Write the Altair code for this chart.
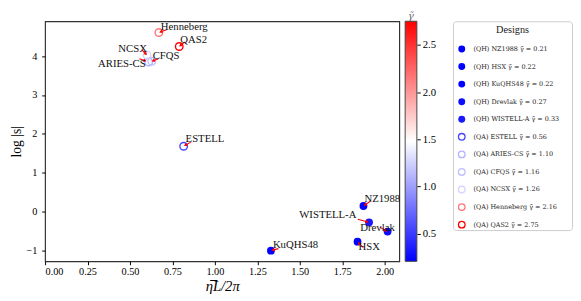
import math
import altair as alt
import pandas as pd

# ---------------- data ----------------
names = ["NZ1988", "HSX", "KuQHS48", "Drevlak", "WISTELL-A",
         "ESTELL", "ARIES-CS", "CFQS", "NCSX", "Henneberg", "QAS2"]
families = ["QH", "QH", "QH", "QH", "QH",
            "QA", "QA", "QA", "QA", "QA", "QA"]
eta_L = [1.875, 1.84, 1.33, 2.017, 1.908, 0.816, 0.61, 0.628, 0.60, 0.67, 0.79]
log_s = [0.14, -0.78, -1.01, -0.52, -0.28, 1.68, 3.85, 3.87, 4.03, 4.61, 4.25]
gamma_tilde = [0.21, 0.22, 0.22, 0.27, 0.33, 0.56, 1.10, 1.16, 1.26, 2.16, 2.75]

x_ticks = [0.0, 0.25, 0.5, 0.75, 1.0, 1.25, 1.5, 1.75, 2.0]
y_ticks = [-1, 0, 1, 2, 3, 4]
cbar_ticks = [0.5, 1.0, 1.5, 2.0, 2.5]

# ---------------- annotation layout (pixels, styling only) ----------------
# name: (align, text dx, text dy (baseline), arrow angle, arrow length, gap to point)
label_layout = {
    "NZ1988":    ("left", 1, -4, 145, 6.5, 2.0),
    "HSX":       ("left", 1, 9, 225, 6.5, 2.0),
    "KuQHS48":   ("left", 2, -3, 165, 6.0, 2.0),
    "Drevlak":   ("left", -28, -1, 30, 7.0, 2.0),
    "WISTELL-A": ("right", -13, -4, 15, 10.0, 2.0),
    "ESTELL":    ("left", 2, -4, 150, 6.5, 2.0),
    "ARIES-CS":  ("right", -3, 5, 20, 6.0, 4.0),
    "CFQS":      ("left", 1, -2, 160, 5.5, 1.5),
    "NCSX":      ("right", 0, -3, 45, 6.0, 1.5),
    "Henneberg": ("left", 2, -3, 160, 6.5, 2.0),
    "QAS2":      ("left", 1, -4, 140, 6.0, 1.5),
}

SERIF = "Liberation Serif"
W, H = 363, 246
X_DOM = [0.0, 2.086]
Y_DOM = [-1.285, 4.90]
kx = (X_DOM[1] - X_DOM[0]) / W
ky = (Y_DOM[1] - Y_DOM[0]) / H

g_lo, g_hi = min(gamma_tilde), max(gamma_tilde)
g_mid = (g_lo + g_hi) / 2
cscale = alt.Scale(domain=[g_lo, g_mid, g_hi],
                   range=["#0000ff", "#ffffff", "#ff0000"], interpolate="rgb")

rows = []
for i, n in enumerate(names):
    al, tdx, tdy, ang, alen, gap = label_layout[n]
    c, s = math.cos(math.radians(ang)), math.sin(math.radians(ang))
    hx_px, hy_px = -gap * c, -gap * s
    tx_px, ty_px = hx_px - alen * c, hy_px - alen * s
    rows.append(dict(
        name=n, family=families[i], x=eta_L[i], y=log_s[i], g=gamma_tilde[i],
        align=al,
        lx=eta_L[i] + tdx * kx, ly=log_s[i] - tdy * ky,
        hx=eta_L[i] + hx_px * kx, hy=log_s[i] - hy_px * ky,
        tx=eta_L[i] + tx_px * kx, ty=log_s[i] - ty_px * ky,
        ang=ang, row=i,
        legend=f"({families[i]}) {n} γ̃ = {gamma_tilde[i]:.2f}",
    ))
df = pd.DataFrame(rows)

xs = alt.Scale(domain=X_DOM, nice=False, zero=False)
ys = alt.Scale(domain=Y_DOM, nice=False, zero=False)

base = alt.Chart(df)
xenc = alt.X("x:Q", scale=xs, title="η̅L/2π",
             axis=alt.Axis(values=x_ticks, format=".2f", labelFontSize=10.5,
                           titleFontSize=15, titleFontStyle="italic",
                           titleFontWeight="normal", titlePadding=2,
                           tickSize=3.5, tickColor="#000", domain=False,
                           grid=False, labelFont=SERIF, titleFont=SERIF,
                           labelColor="#000", titleColor="#000"))
yenc = alt.Y("y:Q", scale=ys, title="log |s|",
             axis=alt.Axis(values=y_ticks, format="d", labelFontSize=10.5,
                           labelPadding=5,
                           titleFontSize=14, titleFontWeight="normal",
                           titlePadding=3, tickSize=3.5, tickColor="#000",
                           domain=False, grid=False, labelFont=SERIF,
                           titleFont=SERIF, labelColor="#000",
                           titleColor="#000"))

qh_pts = base.transform_filter(alt.datum.family == "QH").mark_circle(
    size=64, opacity=1).encode(
    x=xenc, y=yenc, color=alt.Color("g:Q", scale=cscale, legend=None))
qa_pts = base.transform_filter(alt.datum.family == "QA").mark_point(
    shape="circle", filled=False, size=60, strokeWidth=1.4, opacity=1).encode(
    x="x:Q", y="y:Q", color=alt.Color("g:Q", scale=cscale, legend=None))

lab_left = base.transform_filter(alt.datum.align == "left").mark_text(
    align="left", baseline="alphabetic", font=SERIF, fontSize=11,
    color="#111").encode(x="lx:Q", y="ly:Q", text="name:N")
lab_right = base.transform_filter(alt.datum.align == "right").mark_text(
    align="right", baseline="alphabetic", font=SERIF, fontSize=11,
    color="#111").encode(x="lx:Q", y="ly:Q", text="name:N")
arrow_shaft = base.mark_rule(color="#ff0000", strokeWidth=1.1).encode(
    x="tx:Q", y="ty:Q", x2="hx:Q", y2="hy:Q")
arrow_head = base.mark_point(shape="triangle-right", filled=True, size=14,
                             color="#ff0000", opacity=1).encode(
    x="hx:Q", y="hy:Q", angle=alt.Angle("ang:Q", scale=None))

main = alt.layer(qh_pts, qa_pts, arrow_shaft, arrow_head, lab_left, lab_right).properties(
    width=W, height=H, view=alt.ViewBackground(stroke="#333", strokeWidth=1.2))

# ---------------- colorbar ----------------
cb_df = pd.DataFrame({"lo": [g_lo], "hi": [g_hi]})
grad = alt.Gradient(gradient="linear",
                    stops=[alt.GradientStop(color="#0000ff", offset=0),
                           alt.GradientStop(color="#ffffff", offset=0.5),
                           alt.GradientStop(color="#ff0000", offset=1)],
                    x1=0, x2=0, y1=1, y2=0)
cbar = alt.Chart(cb_df).mark_rect(fill=grad, stroke="#444", strokeWidth=1).encode(
    y=alt.Y("lo:Q", scale=alt.Scale(domain=[g_lo, g_hi], nice=False, zero=False),
            axis=alt.Axis(orient="right", values=cbar_ticks, format=".1f",
                          labelFontSize=11, labelFont=SERIF, tickSize=3.5,
                          tickColor="#000", domain=False, grid=False,
                          labelColor="#000", labelPadding=2),
            title=None),
    y2="hi:Q", x=alt.value(0), x2=alt.value(12),
).properties(width=12, height=H,
             title=alt.TitleParams("γ̃", font="DejaVu Serif", fontSize=10,
                                   fontWeight="normal", fontStyle="italic",
                                   color="#666", offset=0),
             view=alt.ViewBackground(stroke="transparent"))

# ---------------- designs legend ----------------
ly_scale = alt.Scale(domain=[-1.578, 10.31], reverse=True, nice=False, zero=False)
lbase = alt.Chart(df)
leg_qh = lbase.transform_filter(alt.datum.family == "QH").mark_circle(
    size=50, opacity=1).encode(
    x=alt.value(9), y=alt.Y("row:Q", scale=ly_scale, axis=None),
    color=alt.Color("g:Q", scale=cscale, legend=None))
leg_qa = lbase.transform_filter(alt.datum.family == "QA").mark_point(
    shape="circle", filled=False, size=46, strokeWidth=1.3, opacity=1).encode(
    x=alt.value(9), y=alt.Y("row:Q", scale=ly_scale, axis=None),
    color=alt.Color("g:Q", scale=cscale, legend=None))
leg_txt = lbase.mark_text(align="left", baseline="middle", font="DejaVu Serif",
                          fontSize=6.6, color="#222").encode(
    x=alt.value(21), y=alt.Y("row:Q", scale=ly_scale, axis=None),
    text="legend:N")
leg_title = alt.Chart(pd.DataFrame({"t": ["Designs"]})).mark_text(
    font=SERIF, fontSize=10.5, color="#222", baseline="middle").encode(
    x=alt.value(61), y=alt.value(9), text="t:N")
legend = alt.layer(leg_qh, leg_qa, leg_txt, leg_title).properties(
    width=122, height=214,
    view=alt.ViewBackground(stroke="#cccccc", strokeWidth=1, cornerRadius=3))

chart = alt.hconcat(alt.hconcat(main, cbar, spacing=3), legend, spacing=16).properties(
    padding={"left": 0, "top": -1, "right": 0, "bottom": 0})

chart.save("out.html", embed_options={"renderer": "svg", "actions": False})
